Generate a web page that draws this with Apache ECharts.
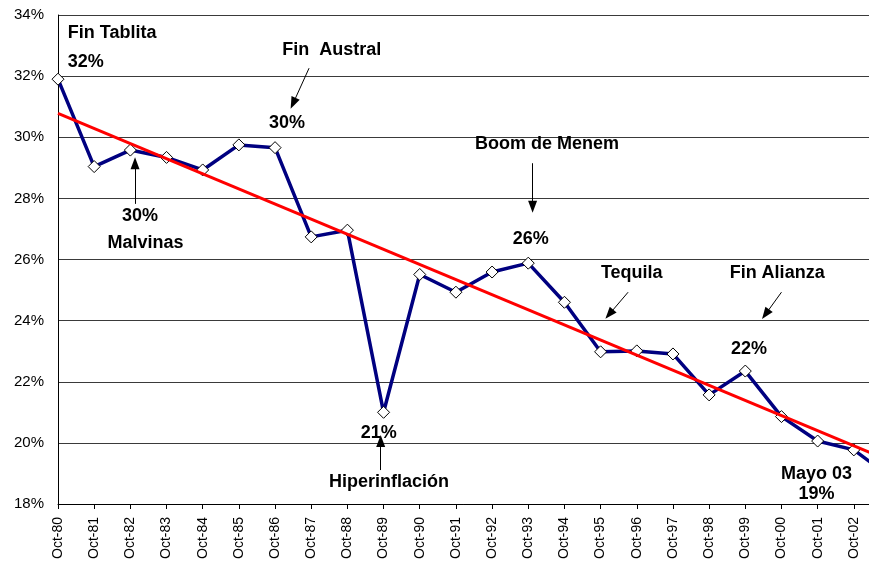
<!DOCTYPE html>
<html>
<head>
<meta charset="utf-8">
<script src="https://cdn.jsdelivr.net/npm/echarts@6/dist/echarts.min.js"></script>
<style>
  html, body { margin: 0; padding: 0; background: #fff; }
  #chart { width: 869px; height: 562px; }
</style>
</head>
<body>
<div id="chart"></div>
<script>
// categories (last one falls just outside the picture)
const months = ['Oct-80', 'Oct-81', 'Oct-82', 'Oct-83', 'Oct-84', 'Oct-85', 'Oct-86', 'Oct-87',
  'Oct-88', 'Oct-89', 'Oct-90', 'Oct-91', 'Oct-92', 'Oct-93', 'Oct-94', 'Oct-95', 'Oct-96',
  'Oct-97', 'Oct-98', 'Oct-99', 'Oct-00', 'Oct-01', 'Oct-02', 'May-03'];
const share = [31.9, 29.04, 29.58, 29.34, 28.93, 29.75, 29.66, 26.74, 26.96, 21.0, 25.51, 24.93,
  25.59, 25.88, 24.6, 22.98, 23.01, 22.91, 21.57, 22.35, 20.86, 20.06, 19.77, 18.9];
// linear trend, read at both ends
const trendEnds = [['Oct-80', 30.78], ['May-03', 19.41]];
const yTicks = { min: 18, max: 34, step: 2 };

// annotations, in [category index, percent]
const noteText = ['Fin Tablita', '32%', 'Fin  Austral', '30%', 'Boom de Menem', '26%', '30%',
  'Malvinas', '21%', 'Hiperinflación', 'Tequila', 'Fin Alianza', '22%', 'Mayo 03', '19%'];
const noteX = [0.27, 0.27, 7.57, 6.33, 13.52, 13.07, 2.27, 2.42, 8.87, 9.15, 15.86, 19.88, 19.1, 20.97, 20.97];
const noteY = [33.41, 32.46, 32.85, 30.47, 29.78, 26.66, 27.42, 26.55, 20.31, 18.73, 25.57, 25.57, 23.07, 18.98, 18.31];
const noteLeft = ['Fin Tablita', '32%'];
const arrowFrom = [[6.94, 32.26], [13.12, 29.15], [2.13, 27.82], [8.92, 19.11], [15.76, 24.93], [20.0, 24.93]];
const arrowTo = [[6.5, 31.11], [13.12, 27.73], [2.13, 29.15], [8.92, 20.06], [15.24, 24.21], [19.56, 24.21]];

const font = '"Liberation Sans", Arial, sans-serif';
const chart = echarts.init(document.getElementById('chart'), null, { renderer: 'canvas' });

chart.setOption({
  animation: false,
  backgroundColor: '#fff',
  grid: { left: 58, top: 15, bottom: 58, right: -21, containLabel: false, outerBoundsMode: 'none' },
  xAxis: [{
    type: 'category',
    data: months,
    boundaryGap: false,
    axisLine: { lineStyle: { color: '#000', width: 1 } },
    axisTick: { length: 5, lineStyle: { color: '#000' } },
    axisLabel: {
      rotate: 90, interval: 0, margin: 13, fontSize: 14, color: '#000', fontFamily: font,
      formatter: v => (v === 'May-03' ? '' : v)
    },
    splitLine: { show: false }
  }, {
    type: 'value', min: 0, max: months.length - 1, show: false
  }],
  yAxis: {
    type: 'value',
    min: yTicks.min,
    max: yTicks.max,
    interval: yTicks.step,
    axisLine: { show: true, lineStyle: { color: '#000', width: 1 } },
    axisTick: { show: false },
    axisLabel: { formatter: '{value}%', fontSize: 15, color: '#000', margin: 14, fontFamily: font },
    splitLine: { lineStyle: { color: '#3a3a3a', width: 1 } }
  },
  series: [{
    type: 'line',
    data: share,
    symbol: 'diamond',
    symbolSize: 12,
    lineStyle: { color: '#000080', width: 3.5 },
    itemStyle: { color: '#fff', borderColor: '#000', borderWidth: 1 },
    z: 2
  }, {
    type: 'line',
    data: trendEnds,
    symbol: 'none',
    lineStyle: { color: '#ff0000', width: 3 },
    z: 3
  }, {
    type: 'scatter',
    xAxisIndex: 1,
    symbolSize: 0,
    silent: true,
    z: 5,
    data: noteText.map((t, i) => ({
      value: [noteX[i], noteY[i]],
      name: t,
      label: { align: noteLeft.includes(t) ? 'left' : 'center' }
    })),
    label: {
      show: true,
      position: 'inside',
      formatter: p => p.name,
      verticalAlign: 'middle',
      fontSize: 18,
      fontWeight: 'bold',
      color: '#000',
      textBorderWidth: 0,
      opacity: 1,
      fontFamily: font
    },
    markLine: {
      silent: true,
      animation: false,
      symbol: ['none', 'triangle'],
      symbolSize: [9, 12],
      lineStyle: { color: '#000', width: 1, type: 'solid' },
      label: { show: false },
      data: arrowFrom.map((f, i) => [{ coord: f }, { coord: arrowTo[i] }])
    }
  }]
});
</script>
</body>
</html>
